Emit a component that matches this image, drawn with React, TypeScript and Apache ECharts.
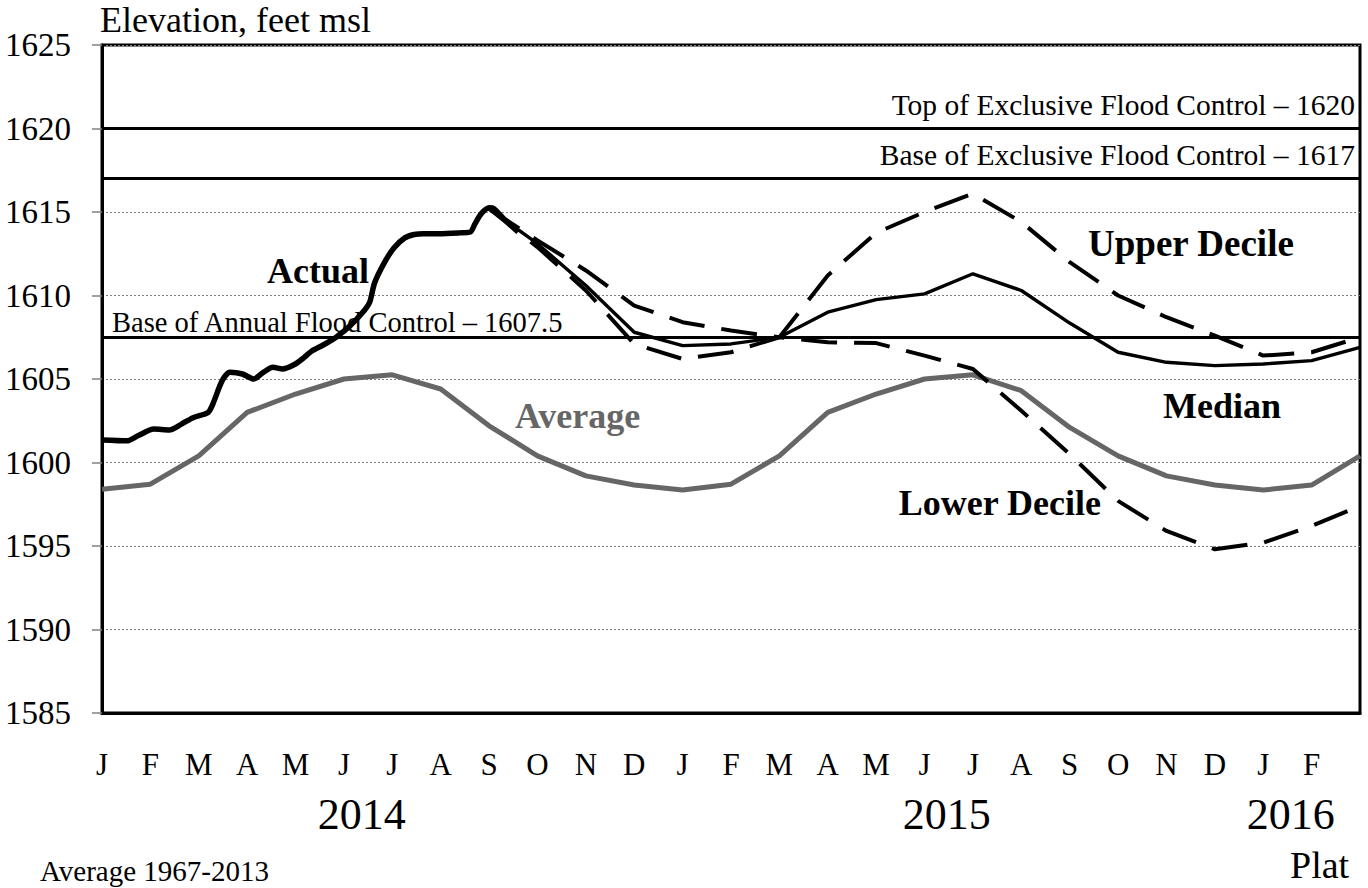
import React, { useEffect, useRef } from 'react';
import * as echarts from 'echarts';

// ---------- data ----------
const monthLetters = ['J', 'F', 'M', 'A', 'M', 'J', 'J', 'A', 'S', 'O', 'N', 'D', 'J', 'F', 'M', 'A', 'M', 'J', 'J', 'A', 'S', 'O', 'N', 'D', 'J', 'F'];
const monthCount = 26;
const yearLabels = ['2014', '2015', '2016'];
const yearLabelMonths = [5.37, 17.46, 24.57];

const yMin = 1585;
const yMax = 1625;
const yInterval = 5;

// Average 1967-2013, values at the start of each month (Jan 2014 .. Mar 2016)
const averageValues = [
  1598.4, 1598.7, 1600.4, 1603.0, 1604.1, 1605.0, 1605.25, 1604.4, 1602.2, 1600.4, 1599.2, 1598.65,
  1598.35, 1598.7, 1600.4, 1603.0, 1604.1, 1605.0, 1605.25, 1604.3, 1602.1, 1600.4, 1599.2, 1598.65,
  1598.35, 1598.65, 1600.4,
];

// Forecasts start on Sep 1 2014 (month index 8)
const forecastStartMonth = 8;
const medianValues = [
  1615.2, 1613.1, 1610.6, 1607.8, 1607.0, 1607.1, 1607.5, 1609.0, 1609.75, 1610.1,
  1611.3, 1610.3, 1608.35, 1606.6, 1606.0, 1605.8, 1605.9, 1606.1, 1606.9,
];
const upperDecileValues = [
  1615.2, 1613.3, 1611.5, 1609.4, 1608.4, 1607.9, 1607.5, 1611.2, 1613.75, 1615.0,
  1616.1, 1614.4, 1612.0, 1610.0, 1608.7, 1607.6, 1606.4, 1606.6, 1607.5,
];
const lowerDecileValues = [
  1615.2, 1612.9, 1610.3, 1607.1, 1606.2, 1606.6, 1607.5, 1607.2, 1607.15, 1606.4,
  1605.6, 1603.1, 1600.5, 1597.7, 1595.9, 1594.8, 1595.2, 1596.2, 1597.4,
];

// Actual elevations 2014
const actualDates = [
  '2014-01-01', '2014-01-17', '2014-01-24', '2014-02-03', '2014-02-12', '2014-02-19', '2014-02-26',
  '2014-03-07', '2014-03-10', '2014-03-16', '2014-03-21', '2014-03-29', '2014-04-05', '2014-04-11',
  '2014-04-17', '2014-04-23', '2014-04-30', '2014-05-06', '2014-05-11', '2014-05-19', '2014-05-27',
  '2014-06-05', '2014-06-14', '2014-06-17', '2014-06-20', '2014-06-26', '2014-07-02', '2014-07-09',
  '2014-07-15', '2014-07-21', '2014-07-31', '2014-08-13', '2014-08-20', '2014-08-23', '2014-08-27',
  '2014-09-01', '2014-09-04', '2014-09-10', '2014-09-19',
];
const actualValues = [
  1601.35, 1601.3, 1601.6, 1602.0, 1601.95, 1602.3, 1602.7,
  1603.0, 1603.5, 1604.9, 1605.4, 1605.3, 1605.0, 1605.4,
  1605.7, 1605.6, 1605.85, 1606.25, 1606.65, 1607.05, 1607.5,
  1608.2, 1609.15, 1609.6, 1610.75, 1611.95, 1612.85, 1613.45,
  1613.65, 1613.7, 1613.7, 1613.75, 1613.8, 1614.3, 1614.9,
  1615.25, 1615.2, 1614.6, 1613.8,
];

const floodLevels = [1620, 1617, 1607.5];
const floodLabels = [
  'Top of Exclusive Flood Control – 1620',
  'Base of Exclusive Flood Control – 1617',
  'Base of Annual Flood Control – 1607.5',
];

const FONT = "'Liberation Serif', 'Times New Roman', serif";

function monthPos(d: string): number {
  const [y, m, day] = d.split('-').map(Number);
  const dim = new Date(y, m, 0).getDate();
  return (y - 2014) * 12 + (m - 1) + (day - 1) / dim;
}

export default function App() {
  const ref = useRef<HTMLDivElement>(null);

  useEffect(() => {
    if (!ref.current) return;
    const chart = echarts.init(ref.current, null, { renderer: 'svg' });

    const forecast = (vals: number[]) => vals.map((v, i) => [forecastStartMonth + i, v]);
    const dashed = { color: '#000', width: 4, type: [36, 17] as any, cap: 'butt' as const };

    chart.setOption({
      animation: false,
      backgroundColor: '#fff',
      grid: {
        left: 102,
        right: 8,
        top: 45,
        bottom: 175,
        show: true,
        borderColor: '#000',
        borderWidth: 3,
        backgroundColor: 'transparent',
      },
      xAxis: {
        type: 'value',
        min: 0,
        max: monthCount,
        interval: 1,
        axisLine: { show: true, lineStyle: { color: '#000', width: 3 } },
        axisTick: { show: false },
        splitLine: { show: false },
        axisLabel: {
          show: true,
          color: '#000',
          fontFamily: FONT,
          fontSize: 31,
          margin: 36,
          showMinLabel: true,
          showMaxLabel: true,
          hideOverlap: false,
          formatter: (v: number) => monthLetters[Math.round(v)] ?? '',
        },
      },
      yAxis: {
        type: 'value',
        min: yMin,
        max: yMax,
        interval: yInterval,
        axisLine: { show: true, lineStyle: { color: '#000', width: 3 } },
        axisTick: { show: true, length: 10, lineStyle: { color: '#808080', width: 1.5 } },
        splitLine: { show: true, lineStyle: { color: '#808080', width: 1, type: [2, 2] } },
        axisLabel: {
          color: '#000',
          fontFamily: FONT,
          fontSize: 33,
          margin: 31,
          formatter: (v: number) => String(v),
        },
      },
      series: [
        {
          name: 'Flood control',
          type: 'line',
          data: [],
          silent: true,
          markLine: {
            silent: true,
            symbol: 'none',
            label: { show: false },
            lineStyle: { color: '#000', width: 3, type: 'solid' },
            data: floodLevels.map((v) => ({ yAxis: v })),
          },
        },
        {
          name: 'Average',
          type: 'line',
          data: averageValues.map((v, i) => [i, v]),
          showSymbol: false,
          lineStyle: { color: '#666666', width: 5 },
          z: 2,
        },
        {
          name: 'Upper Decile',
          type: 'line',
          data: forecast(upperDecileValues),
          showSymbol: false,
          lineStyle: dashed,
          z: 3,
        },
        {
          name: 'Lower Decile',
          type: 'line',
          data: forecast(lowerDecileValues),
          showSymbol: false,
          lineStyle: dashed,
          z: 3,
        },
        {
          name: 'Median',
          type: 'line',
          data: forecast(medianValues),
          showSymbol: false,
          lineStyle: { color: '#000', width: 3.4 },
          z: 4,
        },
        {
          name: 'Actual',
          type: 'line',
          data: actualDates.map((d, i) => [monthPos(d), actualValues[i]]),
          showSymbol: false,
          smooth: 0.25,
          lineStyle: { color: '#000', width: 5.5 },
          z: 5,
        },
      ],
    });

    const px = (x: number, y: number) => chart.convertToPixel({ gridIndex: 0 }, [x, y]) as number[];
    const plotRight = px(monthCount, yMin)[0];
    const plotLeft = px(0, yMin)[0];

    const text = (t: string, x: number, y: number, opts: any = {}) => ({
      type: 'text',
      x,
      y,
      silent: true,
      style: {
        text: t,
        fill: opts.fill ?? '#000',
        font: `${opts.bold ? 'bold ' : ''}${opts.size ?? 27}px ${FONT}`,
        align: opts.align ?? 'left',
        verticalAlign: 'middle',
      },
    });

    const graphics: any[] = [];
    // flood control labels
    graphics.push(text(floodLabels[0], plotRight - 5, px(0, floodLevels[0])[1] - 24, { size: 29.5, align: 'right' }));
    graphics.push(text(floodLabels[1], plotRight - 5, px(0, floodLevels[1])[1] - 24, { size: 29.5, align: 'right' }));
    graphics.push(text(floodLabels[2], plotLeft + 10, px(0, floodLevels[2])[1] - 15, { size: 28.5 }));
    // year labels
    yearLabels.forEach((y, i) => {
      graphics.push(text(y, px(yearLabelMonths[i], yMin)[0], 814, { size: 44, align: 'center' }));
    });
    // axis title and footnotes
    graphics.push(text('Elevation, feet msl', 100, 20, { size: 36 }));
    graphics.push(text('Average 1967-2013', 40, 871, { size: 29 }));
    graphics.push(text('Plat', 1290, 865, { size: 38 }));
    // series labels
    graphics.push(text('Actual', 267, 271, { size: 36, bold: true }));
    graphics.push(text('Upper Decile', 1088, 243, { size: 37, bold: true }));
    graphics.push(text('Median', 1163, 406, { size: 36, bold: true }));
    graphics.push(text('Lower Decile', 1101, 503, { size: 36, bold: true, align: 'right' }));
    graphics.push(text('Average', 515, 416, { size: 36, bold: true, fill: '#666666' }));

    chart.setOption({ graphic: graphics });

    return () => chart.dispose();
  }, []);

  return (
    <div
      ref={ref}
      style={{ position: 'fixed', left: 0, top: 0, width: 1368, height: 888, background: '#fff' }}
    />
  );
}
